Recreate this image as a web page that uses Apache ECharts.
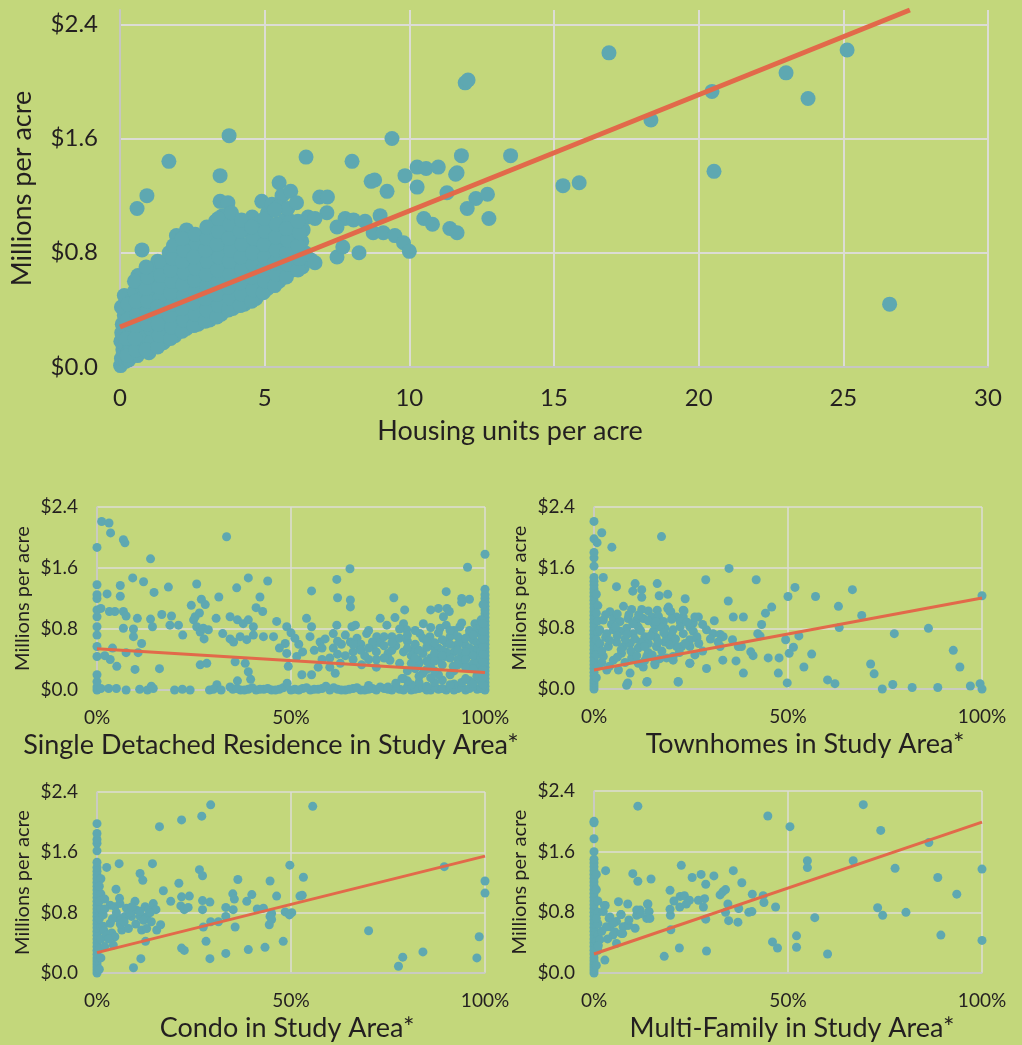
<!DOCTYPE html>
<html>
<head>
<meta charset="utf-8">
<script src="https://cdn.jsdelivr.net/npm/echarts@6/dist/echarts.min.js"></script>
<style>
html,body{margin:0;padding:0;background:#c3d77b;}
#chart{width:1022px;height:1045px;}
</style>
</head>
<body>
<div id="chart"></div>
<script>
// ---------- DATA ----------
const yTicks = [0, 0.8, 1.6, 2.4];
const pctTicks = [0, 0.5, 1];

// Top chart: [housing units per acre, millions per acre]
const densityPoints = [
  [0.02,0.01],[0.05,0.06],[0.1,0.12],[0.03,0.18],[0.12,0.24],[0.08,0.3],[0.15,0.36],[0.05,0.42],[0.2,0.04],[0.18,0.16],[0.15,0.5],[0.06,0.24],[0.22,0.28],
  [0.3,0.05],[0.35,0.14],[0.4,0.22],[0.32,0.3],[0.45,0.38],[0.38,0.46],[0.5,0.53],[0.28,0.1],[0.42,0.08],
  [0.6,0.08],[0.7,0.16],[0.65,0.25],[0.8,0.33],[0.75,0.42],[0.85,0.5],[0.7,0.58],[0.62,0.64],[0.76,0.82],[0.9,0.22],
  [1.0,0.1],[1.1,0.18],[1.05,0.27],[1.2,0.35],[1.15,0.44],[1.25,0.52],[1.1,0.6],[1.2,0.68],[1.3,0.74],
  [1.5,0.17],[1.6,0.25],[1.45,0.33],[1.55,0.41],[1.65,0.5],[1.5,0.58],[1.6,0.66],[1.45,0.73],[1.7,0.8],
  [1.9,0.22],[2.0,0.3],[1.85,0.38],[2.05,0.46],[1.95,0.55],[2.1,0.63],[1.9,0.72],[2.0,0.82],[1.95,0.92],
  [2.3,0.27],[2.4,0.35],[2.25,0.43],[2.45,0.52],[2.35,0.6],[2.5,0.68],[2.3,0.77],[2.4,0.86],[2.3,0.96],
  [2.7,0.3],[2.8,0.38],[2.65,0.47],[2.85,0.55],[2.75,0.64],[2.9,0.72],[2.7,0.8],[2.85,0.9],[2.6,0.85],
  [3.1,0.33],[3.2,0.42],[3.05,0.5],[3.25,0.58],[3.15,0.67],[3.3,0.75],[3.1,0.84],[3.25,0.93],[3.3,1.02],
  [3.5,0.37],[3.6,0.45],[3.45,0.54],[3.65,0.62],[3.55,0.7],[3.7,0.79],[3.5,0.88],[3.6,0.97],[3.46,1.16],[3.73,1.15],[3.55,1.06],
  [3.9,0.41],[4.0,0.5],[3.85,0.58],[4.05,0.66],[3.95,0.75],[4.1,0.84],[3.9,0.93],[4.0,1.02],
  [4.3,0.44],[4.4,0.52],[4.25,0.6],[4.45,0.69],[4.35,0.78],[4.5,0.87],[4.3,0.96],[4.57,1.05],
  [4.7,0.48],[4.8,0.56],[4.65,0.65],[4.85,0.74],[4.75,0.83],[4.9,0.92],[4.7,1.0],[4.9,1.16],
  [5.1,0.55],[5.2,0.63],[5.05,0.72],[5.25,0.8],[5.15,0.9],[5.3,0.98],[5.1,1.08],[5.25,1.14],
  [5.5,0.6],[5.6,0.68],[5.45,0.77],[5.65,0.85],[5.55,0.94],[5.7,1.03],[5.5,1.29],[5.6,1.2],[5.45,1.12],
  [5.95,0.68],[6.0,0.76],[5.85,0.85],[6.05,0.93],[5.9,1.02],[5.9,1.23],[5.8,1.11],
  [6.3,0.7],[6.4,0.8],[6.28,0.88],[6.33,0.96],[6.5,1.05],[6.6,0.75],
  [0.25,0.08],[0.22,0.2],[0.25,0.33],[0.28,0.44],
  [0.55,0.12],[0.52,0.2],[0.55,0.29],[0.58,0.37],[0.55,0.46],[0.5,0.6],
  [0.9,0.12],[0.95,0.3],[0.92,0.38],[0.95,0.46],[0.9,0.55],[0.95,0.63],[0.9,0.7],
  [1.3,0.14],[1.35,0.22],[1.32,0.3],[1.35,0.4],[1.38,0.48],[1.35,0.56],[1.4,0.64],[1.3,0.42],
  [1.75,0.2],[1.78,0.28],[1.72,0.36],[1.8,0.44],[1.75,0.52],[1.8,0.6],[1.75,0.68],[1.82,0.76],[1.85,0.85],
  [2.15,0.25],[2.2,0.33],[2.15,0.41],[2.2,0.5],[2.18,0.58],[2.22,0.66],[2.15,0.74],[2.2,0.82],[2.15,0.9],
  [2.55,0.29],[2.6,0.37],[2.55,0.45],[2.6,0.53],[2.58,0.61],[2.62,0.69],[2.55,0.77],[2.6,0.93],
  [2.95,0.32],[3.0,0.4],[2.95,0.48],[3.0,0.57],[2.98,0.65],[3.02,0.74],[2.95,0.82],[3.0,0.9],[3.0,0.98],
  [3.35,0.35],[3.4,0.43],[3.35,0.51],[3.4,0.6],[3.38,0.68],[3.42,0.77],[3.35,0.86],[3.4,0.95],[3.4,1.04],
  [3.75,0.4],[3.8,0.48],[3.75,0.56],[3.8,0.65],[3.78,0.74],[3.82,0.82],[3.75,0.9],[3.8,1.0],[3.85,1.08],
  [4.15,0.43],[4.2,0.51],[4.15,0.59],[4.2,0.68],[4.18,0.77],[4.22,0.86],[4.15,0.95],[4.2,1.03],
  [4.55,0.46],[4.6,0.54],[4.55,0.63],[4.6,0.72],[4.58,0.8],[4.62,0.9],[4.55,0.98],
  [4.95,0.52],[5.0,0.6],[4.95,0.68],[5.0,0.77],[4.98,0.86],[5.02,0.95],[5.0,1.04],
  [5.35,0.57],[5.4,0.65],[5.35,0.73],[5.4,0.82],[5.38,0.91],[5.4,1.0],[5.35,1.1],
  [5.75,0.63],[5.8,0.72],[5.75,0.8],[5.8,0.89],[5.75,0.97],
  [6.15,0.68],[6.2,0.76],[6.15,0.85],[6.2,0.94],[6.15,1.02],[6.1,1.15],
  [6.9,1.19],[7.17,1.19],[7.15,1.08],[6.74,1.04],[7.78,1.04],[8.07,1.03],[8.47,1.02],[8.99,1.06],[8.75,0.94],[9.1,0.94],
  [9.5,0.92],[9.8,0.87],[10.0,0.81],[8.26,0.8],[7.5,0.77],[7.7,0.84],[6.74,0.73],[7.5,0.98],
  [8.68,1.3],[8.8,1.31],[9.23,1.23],[9.85,1.34],[10.27,1.4],[10.58,1.39],[11.0,1.4],[11.8,1.48],[11.65,1.36],[11.6,1.35],
  [10.27,1.26],[11.3,1.22],[12.3,1.18],[12.7,1.21],[12.0,1.11],[12.75,1.04],[10.5,1.04],[10.8,1.0],[11.4,0.97],[11.65,0.94],[13.5,1.48],
  [3.77,1.62],[1.69,1.44],[0.59,1.11],[0.93,1.2],[3.46,1.34],[6.43,1.47],[8.02,1.44],[9.4,1.6],
  [16.9,2.2],[11.93,1.99],[12.03,2.01],[25.13,2.22],[23.02,2.06],[23.78,1.88],[20.46,1.93],[18.35,1.73],
  [20.53,1.37],[15.31,1.27],[15.87,1.29],[26.6,0.44]
];
const densityTrend = [[0, 0.28], [27.3, 2.5]];

// Share of Single Detached Residence vs millions per acre
const sdrPoints = [
  [0,0],[0,0.04],[0,0.11],[0,0.2],[0,0.44],[0,0.57],[0,0.72],[0,0.83],[0,0.96],[0,1.05],[0,1.2],[0,1.25],[0,1.38],[0,1.87],
  [0.01,1.07],[0.01,0.02],[0.012,2.21],[0.031,2.19],[0.035,2.06],[0.068,1.97],[0.072,1.93],[0.138,1.72],[0.334,2.01],
  [1.0,1.78],[0.955,1.61],[0.652,1.59],[0.092,1.47],[0.12,1.42],[0.184,1.35],[0.257,1.39],[0.39,1.47],[0.44,1.43],[0.36,1.34],
  [0.618,1.45],[0.553,1.3],[0.9,1.29],[0.94,1.2],[0.96,1.19],[0.026,1.26],[0.06,1.37],[0.147,1.28],[0.06,1.23],[0.314,1.22],
  [0.269,1.19],[0.279,1.12],[0.243,1.11],[0.42,1.22],[0.41,1.08],[0.427,1.03],[0.653,1.18],[0.653,1.09],[0.62,1.21],[0.765,1.21],
  [0.793,1.05],[0.86,1.05],[0.88,1.07],[0.902,1.07],[0.908,1.03],[0.94,1.15],
  [0.032,1.03],[0.046,1.03],[0.068,1.03],[0.075,0.97],[0.104,0.94],[0.068,0.81],[0.094,0.8],[0.138,0.93],[0.143,0.83],[0.167,0.99],
  [0.192,0.97],[0.188,0.85],[0.21,0.85],[0.221,0.72],[0.249,0.92],[0.257,0.83],[0.266,0.76],[0.274,0.81],[0.287,0.79],[0.276,0.67],
  [0.253,0.96],[0.264,1.01],[0.307,0.94],[0.324,0.74],[0.343,0.67],[0.343,0.96],[0.362,0.92],[0.377,0.87],[0.39,0.92],[0.403,0.83],
  [0.369,0.7],[0.386,0.66],[0.352,0.63],[0.403,0.72],[0.429,0.7],[0.266,0.33],[0.283,0.35],[0.161,0.28],[0.098,0.27],[0.051,0.31],
  [0.034,0.4],[0.075,0.49],[0.106,0.49],[0.094,0.7],[0.115,0.61],[0.356,0.37],[0.382,0.35],[0.39,0.24],[0.396,0.14],[0.362,0.12],
  [0.309,0.07],[0.343,0.04],[0.02,0.45],[0.04,0.55],
  [0.03,0.02],[0.05,0.02],[0.075,0],[0.11,0.01],[0.13,0],[0.14,0.05],[0.145,0.02],
  [0.2,0],[0.22,0.01],[0.24,0],[0.29,0],[0.3,0.01],[0.32,0],[0.35,0.01],[0.37,0],[0.39,0.01],[0.41,0],[0.43,0.01],[0.45,0],
  [0.47,0.01],[0.5,0],[0.53,0.02],[0.55,0],[0.57,0.01],[0.6,0],[0.62,0.01],[0.64,0],[0.66,0.02],[0.68,0],[0.7,0.01],[0.72,0],
  [0.74,0.02],[0.76,0],[0.78,0.01],[0.81,0],[0.83,0.02],[0.86,0],[0.88,0.01],[0.9,0],[0.93,0.02],[0.95,0],[0.98,0.01],
  [0.36,0.02],[0.38,0],[0.4,0.03],[0.42,0.01],[0.44,0.02],[0.46,0],[0.48,0.03],[0.51,0.01],[0.52,0],[0.54,0.03],[0.56,0.01],[0.58,0.02],
  [0.61,0.03],[0.63,0],[0.65,0.01],[0.67,0.03],[0.69,0],[0.71,0.02],[0.73,0.04],[0.75,0.01],[0.77,0.03],[0.79,0],[0.8,0.04],[0.82,0.01],
  [0.84,0.03],[0.85,0],[0.87,0.04],[0.89,0.02],[0.91,0.03],[0.92,0],[0.94,0.04],[0.96,0.02],[0.97,0.05],[0.99,0.03],
  [0.49,0.09],[0.79,0.15],[0.7,0.06],[0.83,0.1],[0.85,0.05],[0.92,0.08],[0.96,0.12],[0.75,0.04],[0.59,0.05],
  [0.77,0.09],[0.81,0.07],[0.87,0.1],[0.89,0.13],[0.91,0.07],[0.94,0.1],[0.97,0.09],[0.95,0.15],[0.86,0.16],[0.8,0.12],
  [0.455,0.7],[0.463,0.9],[0.489,0.83],[0.485,0.61],[0.489,0.48],[0.493,0.31],[0.515,0.44],[0.528,0.2],[0.553,0.2],[0.54,0.94],
  [0.553,0.83],[0.549,0.7],[0.575,0.63],[0.588,0.67],[0.609,0.55],[0.618,0.85],[0.609,0.74],[0.627,0.35],[0.614,0.22],[0.653,0.63],
  [0.657,0.83],[0.666,0.85],[0.678,0.55],[0.695,0.74],[0.682,0.33],[0.73,0.94],[0.721,0.7],[0.712,0.57],[0.747,0.85],[0.755,0.39],
  [0.768,0.95],[0.768,0.66],[0.786,0.15],[0.79,0.87],[0.798,0.79],[0.816,0.52],[0.832,0.74],[0.828,0.39],[0.841,0.87],[0.858,0.7],
  [0.867,0.57],[0.884,0.81],[0.893,0.96],[0.897,0.44],[0.91,0.7],[0.918,0.31],[0.927,0.57],[0.935,0.83],[0.944,0.66],[0.953,0.44],
  [0.961,0.74],[0.97,0.52],[0.974,0.87],[0.983,0.22],[0.987,0.61],[0.991,0.35],[0.979,0.18],
  [0.64,0.45],[0.66,0.5],[0.7,0.4],[0.73,0.62],[0.75,0.48],[0.77,0.58],[0.8,0.64],[0.82,0.6],[0.84,0.48],[0.86,0.42],[0.88,0.55],
  [0.9,0.62],[0.92,0.5],[0.94,0.38],[0.95,0.58],[0.96,0.46],[0.97,0.65],[0.98,0.55],[0.99,0.72],[0.98,0.42],[0.96,0.3],[0.93,0.7],
  [0.91,0.42],[0.89,0.33],[0.87,0.62],[0.85,0.56],[0.83,0.35],[0.81,0.45],[0.79,0.5],[0.76,0.7],[0.74,0.58],[0.71,0.63],[0.69,0.45],
  [0.67,0.68],[0.63,0.6],[0.62,0.47],[0.58,0.4],[0.56,0.52],[0.52,0.6],[0.5,0.75],[0.47,0.55],[0.6,0.3],[0.72,0.3],[0.8,0.25],[0.88,0.2],
  [0.82,0.28],[0.84,0.22],[0.86,0.3],[0.88,0.4],[0.9,0.5],[0.92,0.25],[0.94,0.48],[0.95,0.3],[0.97,0.35],[0.98,0.25],[0.96,0.78],
  [0.94,0.88],[0.92,0.78],[0.9,0.85],[0.88,0.75],[0.86,0.82],[0.84,0.68],[0.82,0.78],[0.8,0.72],[0.78,0.8],[0.76,0.52],[0.74,0.42],
  [0.72,0.5],[0.7,0.78],[0.68,0.6],[0.66,0.4],[0.64,0.72],[0.62,0.64],[0.6,0.42],[0.58,0.55],[0.57,0.3],[0.53,0.5],[0.51,0.68],
  [0.93,0.6],[0.95,0.68],[0.97,0.45],[0.98,0.8],[0.96,0.55],[0.93,0.4],[0.91,0.6],[0.89,0.66],[0.87,0.48],[0.85,0.38],
  [0.81,0.35],[0.83,0.52],[0.85,0.64],[0.87,0.38],[0.89,0.52],[0.91,0.78],[0.93,0.33],[0.95,0.5],[0.97,0.72],[0.98,0.35],
  [0.83,0.18],[0.85,0.27],[0.87,0.25],[0.89,0.45],[0.91,0.2],[0.93,0.52],[0.95,0.4],[0.97,0.28],[0.98,0.62],[0.99,0.48],
  [0.78,0.35],[0.8,0.55],[0.82,0.42],[0.76,0.62],[0.78,0.68],[0.72,0.4],[0.74,0.7],[0.68,0.52],[0.7,0.55],[0.66,0.6]
  ,[1,0],[1,0.05],[1,0.1],[1,0.15],[1,0.2],[1,0.25],[1,0.3],[1,0.35],[1,0.4],[1,0.45],[1,0.5],[1,0.55],[1,0.6],[1,0.65],[1,0.7],
  [1,0.75],[1,0.8],[1,0.85],[1,0.9],[1,0.95],[1,1.0],[1,1.05],[1,1.1],[1,1.15],[1,1.2],[1,1.25],[1,1.32],
  [0.99,0.02],[0.99,0.12],[0.99,0.22],[0.99,0.32],[0.99,0.42],[0.99,0.52],[0.99,0.62],[0.99,0.82],[0.99,0.92],
  [0.995,0.07],[0.995,0.17],[0.995,0.27],[0.995,0.37],[0.995,0.47],[0.995,0.57],[0.995,0.67],[0.995,0.77],[0.995,0.87],[0.995,1.12]
];
const sdrTrend = [[0, 0.54], [1, 0.23]];

// Share of Townhomes vs millions per acre
const townPoints = [
  [0,0],[0,0.04],[0,0.08],[0,0.12],[0,0.17],[0,0.22],[0,0.27],[0,0.32],[0,0.37],[0,0.42],[0,0.47],[0,0.52],[0,0.57],[0,0.62],
  [0,0.67],[0,0.72],[0,0.77],[0,0.82],[0,0.87],[0,0.92],[0,0.97],[0,1.02],[0,1.07],[0,1.12],[0,1.17],[0,1.22],[0,1.27],[0,1.32],
  [0,1.37],[0,1.42],[0,1.47],[0,1.62],[0,1.73],[0,1.8],[0,1.98],[0,2.21],
  [0.01,0.3],[0.01,0.55],[0.01,0.75],[0.01,0.9],[0.01,1.1],[0.006,0.15],[0.006,0.45],[0.006,0.65],[0.006,1.0],[0.006,1.25],
  [0.02,2.06],[0.008,1.93],[0.046,1.87],[0.174,2.01],[0.024,1.47],[0.058,1.35],[0.106,1.39],[0.123,1.31],[0.1,1.29],[0.123,1.21],
  [0.163,1.39],[0.168,1.23],[0.19,1.25],[0.235,1.19],[0.288,1.44],[0.348,1.59],[0.346,1.16],[0.418,1.44],[0.518,1.34],[0.5,1.22],
  [0.571,1.22],[0.666,1.31],[0.63,1.09],[1.0,1.23],[0.69,0.97],[0.862,0.8],[0.774,0.73],[0.632,0.81],[0.528,0.7],[0.494,0.65],
  [0.514,0.55],[0.503,0.47],[0.561,0.46],[0.541,0.29],[0.477,0.41],[0.475,0.21],[0.498,0.08],[0.602,0.12],[0.621,0.07],
  [0.713,0.33],[0.722,0.2],[0.743,0],[0.77,0.06],[0.82,0.02],[0.886,0.02],[0.926,0.51],[0.943,0.29],[0.97,0.04],[0.995,0.07],[1.0,0],
  [0.432,0.85],[0.422,0.73],[0.428,0.7],[0.41,0.44],[0.449,0.41],[0.385,0.21],[0.366,0.37],[0.332,0.38],[0.404,0.49],[0.38,0.56],
  [0.359,0.95],[0.385,0.95],[0.442,1.0],[0.458,1.08],
  [0.357,0.65],[0.372,0.56],[0.325,0.56],[0.29,0.27],[0.247,0.34],[0.217,0.1],[0.137,0.1],[0.087,0.08],
  [0.269,0.95],[0.256,0.87],[0.265,0.67],[0.247,0.56],[0.226,0.56],[0.204,0.43],[0.192,0.65],[0.183,0.8],[0.17,0.82],
  [0.29,0.78],[0.307,0.73],[0.325,0.72],[0.333,0.69],[0.23,1.04],[0.23,0.95],[0.19,1.06],[0.198,1.02],
  [0.041,1.02],[0.076,1.09],[0.097,1.05],[0.123,1.05],[0.14,1.03],[0.163,1.04],[0.192,1.08],[0.196,1.02],[0.232,1.03],[0.26,0.95],
  [0.024,0.91],[0.05,0.93],[0.067,0.89],[0.088,0.93],[0.11,0.91],[0.127,0.93],[0.149,0.95],[0.166,0.96],[0.179,0.89],[0.213,0.95],
  [0.222,0.89],[0.247,0.82],[0.256,0.76],
  [0.015,0.78],[0.033,0.73],[0.05,0.78],[0.067,0.76],[0.084,0.8],[0.101,0.73],[0.114,0.82],[0.131,0.69],[0.153,0.76],[0.17,0.82],
  [0.187,0.69],[0.204,0.78],[0.222,0.82],[0.23,0.73],
  [0.015,0.6],[0.037,0.56],[0.058,0.62],[0.076,0.56],[0.093,0.6],[0.114,0.54],[0.14,0.6],[0.161,0.56],[0.183,0.62],[0.213,0.56],
  [0.247,0.65],[0.265,0.69],
  [0.024,0.43],[0.05,0.38],[0.071,0.47],[0.097,0.41],[0.114,0.34],[0.136,0.43],[0.157,0.34],[0.187,0.41],[0.204,0.38],[0.247,0.34],
  [0.033,0.25],[0.063,0.25],[0.093,0.21],[0.127,0.29],[0.157,0.32],[0.084,0.05],[0.136,0.09],[0.217,0.09],
  [0.03,0.68],[0.045,0.85],[0.06,0.7],[0.08,0.66],[0.1,0.86],[0.12,0.62],[0.14,0.48],[0.16,0.68],[0.175,0.5],[0.2,0.72],
  [0.02,0.5],[0.04,0.64],[0.055,0.82],[0.07,0.52],[0.085,0.72],[0.095,0.5],[0.105,0.66],[0.12,0.77],[0.13,0.56],[0.145,0.7],
  [0.155,0.86],[0.165,0.62],[0.18,0.74],[0.195,0.58],[0.21,0.66],[0.22,0.48],[0.235,0.6],[0.24,0.88],[0.02,0.35],[0.04,0.3],
  [0.06,0.42],[0.08,0.35],[0.11,0.44],[0.13,0.37],[0.15,0.45],[0.17,0.4],[0.03,0.98],[0.06,0.99],[0.09,0.98],[0.115,0.98],
  [0.14,0.9],[0.16,0.89],[0.2,0.92],[0.28,0.85],[0.3,0.66],[0.31,0.9],[0.32,0.62],[0.27,0.6],[0.28,0.5],[0.26,0.45]
];
const townTrend = [[0, 0.25], [1, 1.2]];

// Share of Condo vs millions per acre
const condoPoints = [
  [0,0],[0,0.04],[0,0.08],[0,0.12],[0,0.16],[0,0.2],[0,0.25],[0,0.3],[0,0.35],[0,0.4],[0,0.45],[0,0.5],[0,0.55],[0,0.6],[0,0.65],
  [0,0.7],[0,0.75],[0,0.8],[0,0.85],[0,0.9],[0,0.95],[0,1.0],[0,1.05],[0,1.1],[0,1.15],[0,1.2],[0,1.25],[0,1.3],[0,1.35],[0,1.4],
  [0,1.47],[0,1.62],[0,1.72],[0,1.77],[0,1.85],[0,1.98],
  [0.01,0.45],[0.01,0.62],[0.01,0.85],[0.01,1.05],[0.01,1.25],[0.01,0.2],[0.006,0.05],[0.006,0.32],[0.006,0.72],[0.006,0.95],[0.006,1.15],
  [0.293,2.23],[0.556,2.21],[0.27,2.08],[0.218,2.03],[0.161,1.94],[0.497,1.43],[0.895,1.41],[1.0,1.22],[1.0,1.06],
  [0.532,1.27],[0.523,1.02],[0.529,1.03],[0.363,1.24],[0.446,1.22],[0.264,1.37],[0.272,1.29],[0.143,1.45],[0.057,1.45],[0.025,1.4],
  [0.111,1.32],[0.118,1.23],[0.049,1.11],[0.171,1.09],[0.211,1.19],[0.218,1.01],[0.238,1.02],[0.19,0.95],[0.35,1.05],[0.354,0.98],
  [0.399,1.04],[0.386,0.95],[0.463,1.02],[0.272,0.96],[0.291,0.94],[0.216,0.89],[0.225,0.84],[0.235,0.87],[0.272,0.84],[0.332,0.87],
  [0.351,0.84],[0.413,0.85],[0.429,0.86],[0.45,0.79],[0.485,0.81],[0.502,0.8],[0.496,0.77],[0.446,0.75],[0.45,0.71],[0.444,0.64],
  [0.332,0.75],[0.356,0.61],[0.313,0.68],[0.293,0.68],[0.274,0.61],[0.281,0.42],[0.218,0.33],[0.225,0.3],[0.291,0.19],[0.332,0.26],
  [0.39,0.31],[0.433,0.34],[0.48,0.42],[0.113,0.19],[0.094,0.07],[0.125,0.42],[0.7,0.56],[0.777,0.09],[0.788,0.21],[0.84,0.28],
  [0.979,0.2],[0.985,0.48],
  [0.034,0.9],[0.046,0.88],[0.059,0.92],[0.076,0.86],[0.098,0.95],[0.1,0.84],[0.124,0.88],[0.134,0.84],[0.145,0.92],[0.152,0.84],
  [0.128,0.75],[0.111,0.75],[0.089,0.75],[0.072,0.75],[0.055,0.73],[0.034,0.66],[0.038,0.53],[0.046,0.48],[0.064,0.57],[0.081,0.59],
  [0.115,0.57],[0.128,0.59],[0.154,0.57],[0.164,0.64],[0.016,0.77],[0.016,0.62],[0.018,0.56],[0.042,0.37],[0.058,0.99],
  [0.085,0.8],[0.111,0.82],[0.137,0.8],[0.02,0.35],[0.025,0.5],[0.06,0.65],
  [0.05,0.8],[0.07,0.68],[0.09,0.88],[0.1,0.65],[0.12,0.7],[0.14,0.68],[0.03,0.45],[0.02,0.85],[0.02,0.98],[0.04,0.72]
];
const condoTrend = [[0, 0.27], [1, 1.55]];

// Share of Multi-Family vs millions per acre
const mfPoints = [
  [0,0],[0,0.04],[0,0.08],[0,0.12],[0,0.16],[0,0.2],[0,0.25],[0,0.3],[0,0.35],[0,0.4],[0,0.45],[0,0.5],[0,0.55],[0,0.6],[0,0.65],
  [0,0.7],[0,0.75],[0,0.8],[0,0.85],[0,0.9],[0,0.95],[0,1.0],[0,1.05],[0,1.1],[0,1.15],[0,1.2],[0,1.25],[0,1.3],[0,1.35],[0,1.4],
  [0,1.45],[0,1.5],[0,1.6],[0,1.77],[0,1.98],[0,2.0],
  [0.01,0.5],[0.01,0.65],[0.01,0.8],[0.01,0.95],[0.01,0.3],[0.006,0.1],[0.006,0.42],[0.006,0.72],[0.006,1.1],[0.006,1.3],
  [0.113,2.2],[0.694,2.22],[0.448,2.07],[0.505,1.93],[0.739,1.88],[0.863,1.72],[0.55,1.48],[0.55,1.39],[0.668,1.48],[0.776,1.38],
  [1.0,1.37],[0.886,1.26],[0.935,1.04],[0.731,0.86],[0.744,0.76],[0.804,0.8],[0.569,0.73],[0.894,0.5],[1.0,0.43],[0.522,0.49],
  [0.522,0.34],[0.602,0.25],[0.46,0.41],[0.473,0.33],[0.468,0.87],[0.436,1.02],[0.438,0.93],[0.408,1.04],[0.399,0.8],[0.407,0.81],
  [0.381,1.19],[0.359,1.35],[0.339,1.1],[0.332,1.07],[0.325,1.03],[0.345,0.91],[0.339,0.8],[0.373,0.85],[0.347,0.69],[0.371,0.67],
  [0.309,1.28],[0.288,1.17],[0.276,1.3],[0.253,1.26],[0.225,1.42],[0.196,1.09],[0.222,1.01],[0.233,1.02],[0.206,0.95],[0.221,0.87],
  [0.246,0.96],[0.269,0.96],[0.285,0.98],[0.238,0.91],[0.282,0.87],[0.196,0.84],[0.197,0.76],[0.288,0.71],[0.198,0.57],[0.22,0.33],
  [0.181,0.22],[0.29,0.29],[0.147,1.24],[0.1,1.31],[0.113,1.21],[0.03,1.35],[0.063,0.94],[0.087,0.91],[0.029,0.89],[0.138,0.91],
  [0.142,0.81],[0.11,0.76],[0.136,0.72],[0.119,0.83],[0.07,0.77],[0.058,0.68],[0.039,0.72],[0.041,0.61],[0.054,0.54],[0.074,0.52],
  [0.086,0.63],[0.106,0.59],[0.028,0.17],[0.01,0.37],[0.058,0.39],
  [0.027,0.89],[0.069,0.77],[0.041,0.74],[0.075,0.61],[0.032,0.61],[0.049,0.5],[0.071,0.52],[0.089,0.63],[0.024,0.81],[0.015,0.44],
  [0.011,0.36],[0.11,0.83],[0.139,0.91],[0.141,0.81],[0.12,0.78],[0.144,0.72],[0.02,0.55],[0.035,0.45],[0.05,0.66],[0.09,0.7]
];
const mfTrend = [[0, 0.25], [1, 1.99]];

// ---------- STYLE ----------
const BG = '#c3d77b', DOT = '#5ea8b1', LINE = '#e2694a', GRIDC = '#dcdcd4', AXISC = '#c6c6c2', TXT = '#231f20';
const FONT = 'Lato';

const chart = echarts.init(document.getElementById('chart'), null, {renderer: 'canvas'});

const smallDefs = [
  {name: 'Single Detached Residence in Study Area*', data: sdrPoints, trend: sdrTrend, grid: {left: 97, top: 507, width: 388, height: 183}, pad: [0, 40, 0, 0]},
  {name: 'Townhomes in Study Area*', data: townPoints, trend: townTrend, grid: {left: 594, top: 507, width: 388, height: 182}, pad: [0, 0, 0, 34]},
  {name: 'Condo in Study Area*', data: condoPoints, trend: condoTrend, grid: {left: 97, top: 792, width: 388, height: 181}, pad: [0, 8, 0, 0]},
  {name: 'Multi-Family in Study Area*', data: mfPoints, trend: mfTrend, grid: {left: 594, top: 791, width: 388, height: 182}, pad: [0, 0, 0, 8]}
];

const grids = [{left: 120, top: 10, width: 868, height: 357}];
const xAxes = [{
  gridIndex: 0, type: 'value', min: 0, max: 30, interval: 5,
  axisLine: {show: true, lineStyle: {color: AXISC, width: 2}},
  axisTick: {show: false},
  splitLine: {show: true, lineStyle: {color: GRIDC, width: 2}},
  axisLabel: {fontFamily: FONT, fontSize: 24, color: TXT, margin: 19},
  name: 'Housing units per acre', nameLocation: 'middle', nameGap: 51,
  nameTextStyle: {fontFamily: FONT, fontSize: 27, color: TXT, padding: [0, 88, 0, 0]}
}];
const yAxes = [{
  gridIndex: 0, type: 'value', min: 0, max: 2.5, interval: 0.8,
  axisLine: {show: true, lineStyle: {color: AXISC, width: 2}},
  axisTick: {show: false},
  splitLine: {show: true, showMaxLine: false, lineStyle: {color: GRIDC, width: 2}},
  axisLabel: {fontFamily: FONT, fontSize: 24, color: TXT, margin: 22, showMaxLabel: false,
    formatter: v => yTicks.indexOf(Math.round(v * 10) / 10) >= 0 ? '$' + v.toFixed(1) : ''},
  name: 'Millions per acre', nameLocation: 'middle', nameGap: 84, nameRotate: 90,
  nameTextStyle: {fontFamily: FONT, fontSize: 27, color: TXT}
}];
const series = [
  {type: 'scatter', xAxisIndex: 0, yAxisIndex: 0, data: densityPoints, symbolSize: 15,
   itemStyle: {color: DOT, opacity: 1}, z: 2},
  {type: 'line', xAxisIndex: 0, yAxisIndex: 0, data: densityTrend, symbol: 'none',
   lineStyle: {color: LINE, width: 5}, z: 3}
];

smallDefs.forEach((d, i) => {
  const gi = i + 1;
  grids.push(d.grid);
  xAxes.push({
    gridIndex: gi, type: 'value', min: 0, max: 1, interval: 0.5,
    axisLine: {show: true, lineStyle: {color: AXISC, width: 1.5}},
    axisTick: {show: false},
    splitLine: {show: true, lineStyle: {color: GRIDC, width: 1.5}},
    axisLabel: {fontFamily: FONT, fontSize: 19, color: TXT, margin: 18,
      formatter: v => Math.round(v * 100) + '%'},
    name: d.name, nameLocation: 'middle', nameGap: 42,
    nameTextStyle: {fontFamily: FONT, fontSize: 27, color: TXT, padding: d.pad}
  });
  yAxes.push({
    gridIndex: gi, type: 'value', min: 0, max: 2.4, interval: 0.8,
    axisLine: {show: true, lineStyle: {color: AXISC, width: 1.5}},
    axisTick: {show: false},
    splitLine: {show: true, lineStyle: {color: GRIDC, width: 1.5}},
    axisLabel: {fontFamily: FONT, fontSize: 19, color: TXT, margin: 19,
      formatter: v => '$' + v.toFixed(1)},
    name: 'Millions per acre', nameLocation: 'middle', nameGap: 64, nameRotate: 90,
    nameTextStyle: {fontFamily: FONT, fontSize: 20, color: TXT}
  });
  series.push({type: 'scatter', xAxisIndex: gi, yAxisIndex: gi, data: d.data, symbolSize: 9,
    itemStyle: {color: DOT, opacity: 1}, z: 2});
  series.push({type: 'line', xAxisIndex: gi, yAxisIndex: gi, data: d.trend, symbol: 'none',
    lineStyle: {color: LINE, width: 3}, z: 3});
});

chart.setOption({
  animation: false,
  backgroundColor: BG,
  grid: grids,
  xAxis: xAxes,
  yAxis: yAxes,
  series: series
});
</script>
</body>
</html>
